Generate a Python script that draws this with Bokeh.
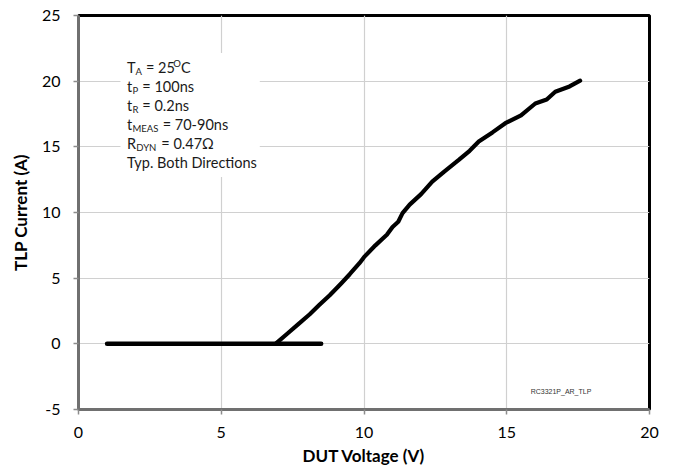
from bokeh.plotting import figure
from bokeh.models import Label, FixedTicker
from bokeh.embed import file_html
from bokeh.resources import INLINE

# off-state trace
off_v = [1.0, 2.0, 3.0, 4.0, 5.0, 6.0, 7.0, 7.5, 8.0, 8.5]
off_i = [0.0, 0.0, 0.0, 0.0, 0.0, 0.0, 0.0, 0.0, 0.0, 0.0]
# TLP on-state trace
tlp_v = [6.93, 7.3, 7.7, 8.1, 8.44, 8.8, 9.2, 9.5, 9.84, 10.0, 10.4, 10.8, 11.0, 11.2,
         11.35, 11.6, 12.0, 12.39, 12.8, 13.32, 13.7, 14.02, 14.5, 14.95, 15.5, 16.0,
         16.4, 16.7, 17.2, 17.57]
tlp_i = [0.05, 0.75, 1.5, 2.25, 2.97, 3.7, 4.6, 5.3, 6.14, 6.6, 7.5, 8.3, 8.9, 9.3,
         9.95, 10.6, 11.4, 12.35, 13.1, 14.0, 14.7, 15.4, 16.1, 16.8, 17.4, 18.3,
         18.6, 19.2, 19.6, 20.04]
x_ticks = [0, 5, 10, 15, 20]
y_ticks = [-5, 0, 5, 10, 15, 20, 25]

FONT = "Lato"

p = figure(width=666, height=468, x_range=(0, 20), y_range=(-5, 25),
           output_backend="svg", toolbar_location=None,
           min_border_left=78, min_border_right=17, min_border_top=15, min_border_bottom=40)
p.outline_line_color = "black"
p.outline_line_width = 3
p.background_fill_color = "white"

p.xaxis.ticker = FixedTicker(ticks=x_ticks)
p.yaxis.ticker = FixedTicker(ticks=y_ticks)
p.xgrid.ticker = FixedTicker(ticks=x_ticks)
p.ygrid.ticker = FixedTicker(ticks=y_ticks)
p.yaxis.major_label_overrides = {-5: "-5"}
for g in (p.xgrid, p.ygrid):
    g.grid_line_color = "#d0d0d0"
    g.grid_line_width = 1.2

for ax in (p.xaxis, p.yaxis):
    ax.axis_line_color = "#707070"
    ax.axis_line_width = 3
    ax.major_tick_line_color = "#8c8c8c"
    ax.major_tick_line_width = 1.5
    ax.major_tick_out = 5
    ax.major_tick_in = 0
    ax.minor_tick_line_color = None
    ax.major_label_text_font = FONT
    ax.major_label_text_font_size = "16px"
    ax.major_label_text_color = "#000000"
    ax.axis_label_text_font = FONT
    ax.axis_label_text_font_size = "17px"
    ax.axis_label_text_font_style = "bold"
    ax.axis_label_text_color = "#000000"

p.xaxis.axis_label = "DUT Voltage (V)"
p.yaxis.axis_label = "TLP Current (A)"
p.xaxis.major_label_standoff = 12
p.yaxis.major_label_standoff = 13
p.xaxis.axis_label_standoff = 4
p.yaxis.axis_label_standoff = 8

# white box behind annotation
p.quad(left=[1.47], right=[6.35], bottom=[12.7], top=[22.15],
       fill_color="white", line_color=None)

p.line(off_v, off_i, line_color="black", line_width=4.5, line_cap="round")
p.line(tlp_v, tlp_i, line_color="black", line_width=4.2, line_cap="round", line_join="round")

# annotation text with sub/superscripts
NB = "\u00a0"
W = {"T": 0.58, "t": 0.38, "R": 0.64, NB: 0.20, "=": 0.58, "0": 0.58, "1": 0.58,
     "2": 0.58, "4": 0.58, "5": 0.58, "7": 0.58, "9": 0.58, "-": 0.36, ".": 0.25,
     "n": 0.56, "s": 0.42, "C": 0.66, "Ω": 0.70, "A": 0.72, "P": 0.64, "M": 0.92,
     "E": 0.60, "S": 0.54, "D": 0.78, "Y": 0.66, "N": 0.80, "O": 0.80}
def tw(s, size):
    return sum(W.get(c, 0.55) for c in s) * size

BIG = 14.5
SMALL = 9.5
x0 = 1.7
rows = [
    [("T", 0), ("A", -1), (NB + "=" + NB + "25", 0), ("O", 1), ("C", 0)],
    [("t", 0), ("P", -1), (NB + "=" + NB + "100ns", 0)],
    [("t", 0), ("R", -1), (NB + "=" + NB + "0.2ns", 0)],
    [("t", 0), ("MEAS", -1), (NB + "=" + NB + "70-90ns", 0)],
    [("R", 0), ("DYN", -1), (NB + "=" + NB + "0.47Ω", 0)],
    [("Typ." + NB + "Both" + NB + "Directions", 0)],
]
y_top = 21.06
dy = 19.0 / 13.15
for r, pieces in enumerate(rows):
    yv = y_top - r * dy
    off = 0.0
    for txt, kind in pieces:
        size = BIG if kind == 0 else SMALL
        yoff = {0: 0, -1: -4, 1: 4}[kind]
        p.add_layout(Label(x=x0, y=yv, x_offset=off, y_offset=yoff, text=txt,
                           text_font=FONT, text_font_size=f"{size}px",
                           text_baseline="middle", text_align="left",
                           text_color="#1a1a1a"))
        off += tw(txt, size)

p.add_layout(Label(x=16.9, y=-3.65, text="RC3321P_AR_TLP", text_font="Liberation Sans",
                   text_font_size="7px", text_align="center", text_baseline="middle",
                   text_color="#333333"))

open("out.html", "w").write(file_html(p, INLINE))
